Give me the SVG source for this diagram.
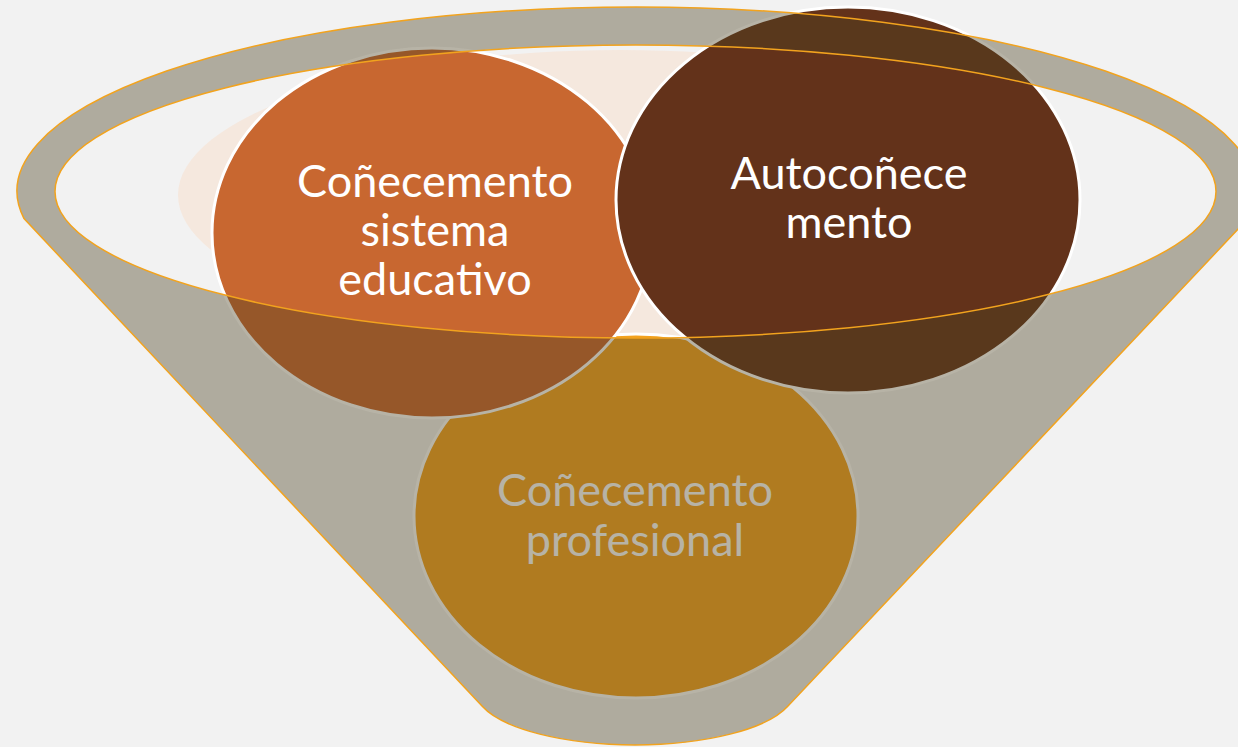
<svg xmlns="http://www.w3.org/2000/svg" width="1238" height="747" viewBox="0 0 1238 747">
  <style>
    .circle { stroke: #FFFFFF; stroke-width: 3; }
    .label { font-family: Lato, "Open Sans", "Liberation Sans", sans-serif; font-size: 45px; fill: #FFFFFF; text-anchor: middle; }
    .funnel { fill: rgb(75,65,32); fill-opacity: 0.4; fill-rule: evenodd; stroke: #F2A31E; stroke-width: 1.5; }
  </style>
  <rect x="0" y="0" width="1238" height="747" fill="#F2F2F2"/>
  <ellipse id="backdrop" cx="620" cy="195" rx="442" ry="145" fill="#F5E8DE"/>
  <g id="node-profesional">
    <ellipse class="circle" cx="636" cy="516" rx="222" ry="182" fill="#F3A220"/>
    <text class="label" x="635" y="506">Coñecemento</text>
    <text class="label" x="635" y="556">profesional</text>
  </g>
  <g id="node-sistema">
    <ellipse class="circle" cx="432" cy="233" rx="220" ry="185" fill="#C86730"/>
    <text class="label" x="435" y="197">Coñecemento</text>
    <text class="label" x="435" y="246">sistema</text>
    <text class="label" x="435" y="295">educativo</text>
  </g>
  <g id="node-auto">
    <ellipse class="circle" cx="848" cy="200" rx="232" ry="193" fill="#63321A"/>
    <text class="label" x="849" y="189">Autocoñece</text>
    <text class="label" x="849" y="238">mento</text>
  </g>
  <g id="funnel">
    <path class="funnel" d="M24,218.6 A619,184 0 1 1 1248,218.6 L788,706 A160,55 0 0 1 482,706 Z M55,191.5 A580.5,146.5 0 1 0 1216,191.5 A580.5,146.5 0 1 0 55,191.5 Z"/>
  </g>
</svg>
